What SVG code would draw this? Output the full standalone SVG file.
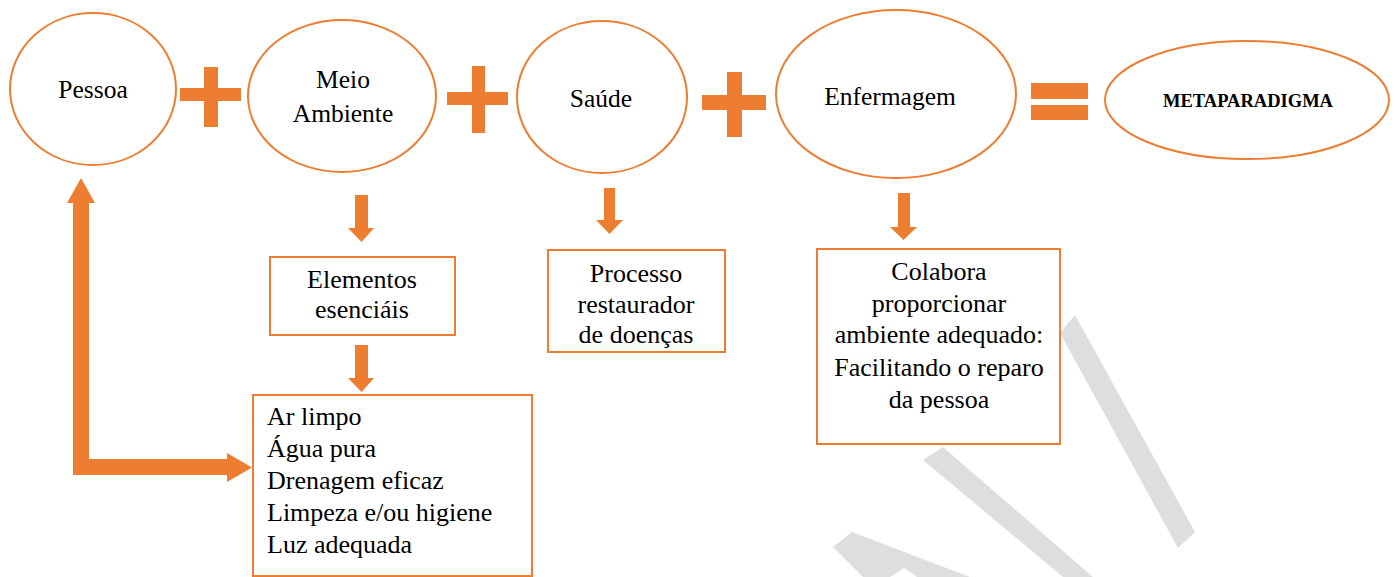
<svg xmlns="http://www.w3.org/2000/svg" width="1395" height="577" viewBox="0 0 1395 577">
<style>
.shape{fill:#ffffff;stroke:#ED7D31;stroke-width:2}
.op{fill:#ED7D31}
.lbl{font-size:25.5px;text-anchor:middle}
.box{font-size:26px;text-anchor:middle}
.left{text-anchor:start}
.bold{font-weight:bold;font-size:18.5px}
.wm{fill:#DEDEDE}
</style>
<rect width="1395" height="577" fill="#ffffff"/>
<g id="watermark">
<polygon class="wm" points="1060,333 1075,315 1195,532 1178,548"/>
<polygon class="wm" points="923,460 943,447 1093,577 1063,577"/>
<polygon class="wm" points="833,547 852,532 970,577 917,577 904,568 890,577 863,577"/>
</g>
<g id="pessoa"><ellipse class="shape" cx="93" cy="89" rx="83" ry="76"/><text class="lbl" x="93" y="98" font-family="serif">Pessoa</text></g>
<g id="meio-ambiente"><ellipse class="shape" cx="342" cy="96" rx="94" ry="76"/><text class="lbl" x="343" y="88" font-family="serif">Meio</text><text class="lbl" x="343" y="122" font-family="serif">Ambiente</text></g>
<g id="saude"><ellipse class="shape" cx="602" cy="97" rx="85" ry="76"/><text class="lbl" x="601" y="107" font-family="serif">Saúde</text></g>
<g id="enfermagem"><ellipse class="shape" cx="896" cy="94" rx="120" ry="84"/><text class="lbl" x="890" y="105" font-family="serif">Enfermagem</text></g>
<g id="metaparadigma"><ellipse class="shape" cx="1247" cy="100" rx="142" ry="59"/><text class="lbl bold" x="1248" y="107" font-family="serif">METAPARADIGMA</text></g>
<g id="operators">
<rect class="op" x="180" y="88" width="61" height="13"/><rect class="op" x="204" y="67" width="14" height="60"/>
<rect class="op" x="447" y="92" width="61" height="13"/><rect class="op" x="472" y="66" width="13" height="67"/>
<rect class="op" x="702" y="95" width="64" height="15"/><rect class="op" x="727" y="72" width="15" height="65"/>
<rect class="op" x="1031" y="83" width="57" height="16"/><rect class="op" x="1031" y="105" width="57" height="15"/>
</g>
<g id="elementos"><rect class="shape" x="270" y="257" width="185" height="78"/><text class="box" x="362" y="288" font-family="serif">Elementos</text><text class="box" x="362" y="318" font-family="serif">esenciáis</text></g>
<g id="processo"><rect class="shape" x="548" y="250" width="177" height="102"/><text class="box" x="636" y="282" font-family="serif">Processo</text><text class="box" x="636" y="313" font-family="serif">restaurador</text><text class="box" x="636" y="343" font-family="serif">de doenças</text></g>
<g id="colabora"><rect class="shape" x="817" y="249" width="243" height="195"/><text class="box" x="939" y="280" font-family="serif">Colabora</text><text class="box" x="939" y="312" font-family="serif">proporcionar</text><text class="box" x="939" y="343" font-family="serif">ambiente adequado:</text><text class="box" x="939" y="376" font-family="serif">Facilitando o reparo</text><text class="box" x="939" y="408" font-family="serif">da pessoa</text></g>
<g id="elementos-lista"><rect class="shape" x="253" y="395" width="279" height="181"/>
<text class="box left" x="267" y="425" font-family="serif">Ar limpo</text><text class="box left" x="267" y="457" font-family="serif">Água pura</text><text class="box left" x="267" y="489" font-family="serif">Drenagem eficaz</text><text class="box left" x="267" y="521" font-family="serif">Limpeza e/ou higiene</text><text class="box left" x="267" y="553" font-family="serif">Luz adequada</text></g>
<g id="connectors">
<polygon class="op" points="355,195 368,195 368,228 374,228 361.5,242 348,228 355,228"/>
<polygon class="op" points="355,345 368,345 368,378 374,378 361.5,392 348,378 355,378"/>
<polygon class="op" points="604,188 615,188 615,220 623,220 609.5,234 596,220 604,220"/>
<polygon class="op" points="898,193 910,193 910,227 917,227 903.5,240 890,227 898,227"/>
<polygon class="op" points="73,203 67,203 81,178 95,203 89,203 89,459 227,459 227,453 252,467.5 227,482 227,475 73,475"/>
</g>
</svg>
